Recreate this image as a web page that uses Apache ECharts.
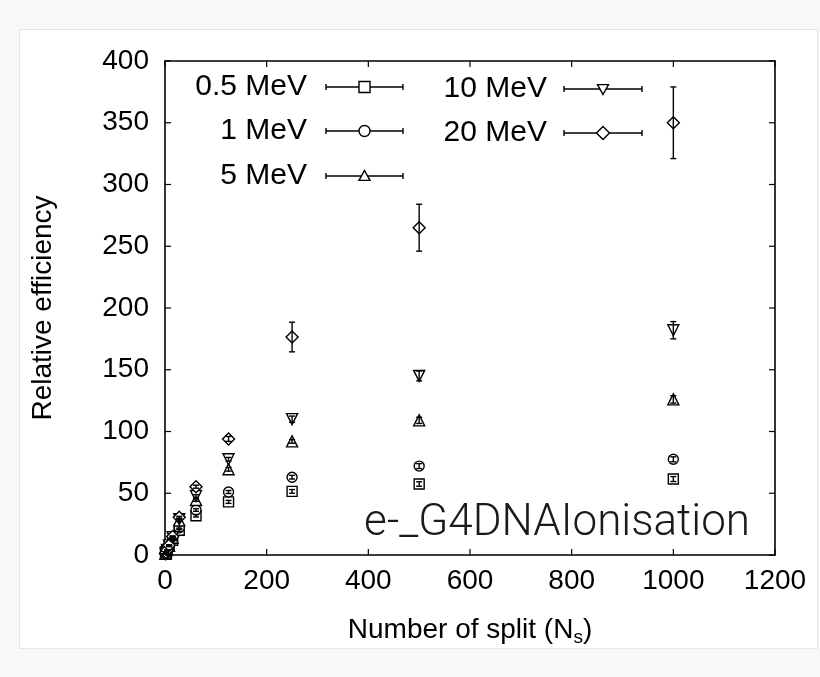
<!DOCTYPE html>
<html>
<head>
<meta charset="utf-8">
<script src="https://cdn.jsdelivr.net/npm/echarts@6/dist/echarts.min.js"></script>
<style>
html,body{margin:0;padding:0;background:#f8f8f8;}
#card{position:absolute;left:19px;top:29px;width:797px;height:618px;background:#fff;border:1px solid #e6e6e6;}
#chart{position:absolute;left:0;top:0;width:820px;height:677px;}
</style>
</head>
<body>
<div id="card"></div>
<div id="chart"></div>
<script>
// ---- data ----
const xVals = [1, 2, 4, 8, 15, 28, 61, 125, 250, 500, 1000];
const seriesNames = ['0.5 MeV', '1 MeV', '5 MeV', '10 MeV', '20 MeV'];
const y05  = [1, 2, 3.8, 7.0, 12, 20, 31.8, 43, 51.5, 57.5, 61.5];
const e05  = [0.1, 0.1, 0.2, 0.3, 0.5, 0.8, 1, 1.2, 1.5, 1.8, 2];
const y1   = [1, 2, 3.9, 7.4, 13, 22, 36.4, 51, 63, 72, 77.5];
const e1   = [0.1, 0.1, 0.2, 0.3, 0.5, 0.8, 1, 1.2, 1.5, 2, 2];
const y5   = [1, 2, 4, 7.7, 14, 28, 44.5, 69.4, 92, 109, 126];
const e5   = [0.1, 0.1, 0.2, 0.3, 0.5, 0.8, 1, 1.5, 1.5, 2.5, 3];
const y10  = [1, 2, 4, 7.8, 14.5, 29, 47.8, 77.5, 110, 145, 182];
const e10  = [0.1, 0.1, 0.2, 0.3, 0.5, 0.8, 1, 1.5, 2.5, 4, 7];
const y20  = [1, 2, 4, 7.9, 15, 30.5, 55.3, 94, 176.5, 265, 350];
const e20  = [0.1, 0.1, 0.2, 0.3, 0.5, 0.8, 1.2, 2, 12, 19, 29];
const xTicks = [0, 200, 400, 600, 800, 1000, 1200];
const yTicks = [0, 50, 100, 150, 200, 250, 300, 350, 400];

const allY = [y05, y1, y5, y10, y20];
const allE = [e05, e1, e5, e10, e20];
const symbols = ['rect', 'circle', 'triangle', 'triangle', 'diamond'];
const rotates = [0, 0, 0, 180, 0];
const sizes = [10, 10, 11, 11, 12];

const FONT = 'Liberation Sans';
const XMIN = xTicks[0], XMAX = xTicks[xTicks.length - 1];
const YMIN = yTicks[0], YMAX = yTicks[yTicks.length - 1];
const chart = echarts.init(document.getElementById('chart'), null, {renderer: 'canvas'});

const series = [];
allY.forEach((ys, i) => {
  series.push({
    name: seriesNames[i],
    type: 'scatter',
    symbol: symbols[i],
    symbolRotate: rotates[i],
    symbolSize: sizes[i],
    itemStyle: {color: '#ffffff', borderColor: '#000', borderWidth: 1.4, opacity: 1},
    data: xVals.map((x, k) => [x, ys[k]]),
    z: 3,
    silent: true
  });
  series.push({
    type: 'custom',
    data: xVals.map((x, k) => [x, ys[k], allE[i][k]]),
    renderItem: function (params, api) {
      const x = api.value(0), y = api.value(1), e = api.value(2);
      const lo = api.coord([x, y - e]);
      const hi = api.coord([x, y + e]);
      const c = 3;
      return {
        type: 'group',
        children: [
          {type: 'line', shape: {x1: lo[0], y1: lo[1], x2: hi[0], y2: hi[1]}, style: {stroke: '#000', lineWidth: 1.4}},
          {type: 'line', shape: {x1: lo[0] - c, y1: lo[1], x2: lo[0] + c, y2: lo[1]}, style: {stroke: '#000', lineWidth: 1.4}},
          {type: 'line', shape: {x1: hi[0] - c, y1: hi[1], x2: hi[0] + c, y2: hi[1]}, style: {stroke: '#000', lineWidth: 1.4}}
        ]
      };
    },
    z: 4,
    silent: true
  });
});

// inward ticks on all four sides (gnuplot style), positioned by the axes
const TL = 6;
series.push({
  type: 'custom', silent: true, z: 5, clip: false,
  data: xTicks.map(v => [v, YMIN]),
  renderItem: function (params, api) {
    const v = api.value(0);
    const b = api.coord([v, YMIN]), t = api.coord([v, YMAX]);
    return {type: 'group', children: [
      {type: 'line', shape: {x1: b[0], y1: b[1], x2: b[0], y2: b[1] - TL}, style: {stroke: '#000', lineWidth: 1.2}},
      {type: 'line', shape: {x1: t[0], y1: t[1], x2: t[0], y2: t[1] + TL}, style: {stroke: '#000', lineWidth: 1.2}}
    ]};
  }
});
series.push({
  type: 'custom', silent: true, z: 5, clip: false,
  data: yTicks.map(v => [XMIN, v]),
  renderItem: function (params, api) {
    const v = api.value(1);
    const l = api.coord([XMIN, v]), r = api.coord([XMAX, v]);
    return {type: 'group', children: [
      {type: 'line', shape: {x1: l[0], y1: l[1], x2: l[0] + TL, y2: l[1]}, style: {stroke: '#000', lineWidth: 1.2}},
      {type: 'line', shape: {x1: r[0], y1: r[1], x2: r[0] - TL, y2: r[1]}, style: {stroke: '#000', lineWidth: 1.2}}
    ]};
  }
});

// legend built as graphic elements
function legendSymbol(kind, cx, cy) {
  const s = 5.5;
  const st = {fill: '#fff', stroke: '#000', lineWidth: 1.4};
  if (kind === 0) return {type: 'rect', shape: {x: cx - s, y: cy - s, width: 2 * s, height: 2 * s}, style: st, z: 10};
  if (kind === 1) return {type: 'circle', shape: {cx: cx, cy: cy, r: s}, style: st, z: 10};
  if (kind === 2) return {type: 'polygon', shape: {points: [[cx, cy - s], [cx + s, cy + s * 0.8], [cx - s, cy + s * 0.8]]}, style: st, z: 10};
  if (kind === 3) return {type: 'polygon', shape: {points: [[cx, cy + s], [cx + s, cy - s * 0.8], [cx - s, cy - s * 0.8]]}, style: st, z: 10};
  return {type: 'polygon', shape: {points: [[cx, cy - s - 1], [cx + s + 1, cy], [cx, cy + s + 1], [cx - s - 1, cy]]}, style: st, z: 10};
}
const legendPos = [
  {tx: 307, x1: 326, x2: 403, y: 87},
  {tx: 307, x1: 326, x2: 403, y: 131},
  {tx: 307, x1: 326, x2: 403, y: 176},
  {tx: 547, x1: 564, x2: 642, y: 89},
  {tx: 547, x1: 564, x2: 642, y: 133}
];
const graphics = [];
seriesNames.forEach((n, i) => {
  const p = legendPos[i];
  graphics.push({type: 'text', x: p.tx, y: p.y, style: {text: n, font: '30px "' + FONT + '"', fill: '#000', textAlign: 'right', textVerticalAlign: 'middle'}, z: 10});
  graphics.push({type: 'line', shape: {x1: p.x1, y1: p.y, x2: p.x2, y2: p.y}, style: {stroke: '#000', lineWidth: 1.4}, z: 10});
  graphics.push({type: 'line', shape: {x1: p.x1, y1: p.y - 3, x2: p.x1, y2: p.y + 3}, style: {stroke: '#000', lineWidth: 1.4}, z: 10});
  graphics.push({type: 'line', shape: {x1: p.x2, y1: p.y - 3, x2: p.x2, y2: p.y + 3}, style: {stroke: '#000', lineWidth: 1.4}, z: 10});
  graphics.push(legendSymbol(i, (p.x1 + p.x2) / 2, p.y));
});
graphics.push({type: 'text', x: 750, y: 524, style: {text: 'e-_G4DNAIonisation', font: '300 44px Roboto', fill: '#1a1a1a', textAlign: 'right', textVerticalAlign: 'middle'}, z: 10});

const axisLine = {show: true, onZero: false, lineStyle: {color: '#000', width: 1.6}};
const option = {
  animation: false,
  backgroundColor: 'transparent',
  grid: {left: 165, top: 61, width: 610, height: 494, containLabel: false},
  xAxis: [{
    type: 'value', min: XMIN, max: XMAX, interval: 200,
    axisLine: axisLine,
    axisTick: {show: false},
    axisLabel: {color: '#000', fontSize: 28, fontFamily: FONT, margin: 12, formatter: v => String(v)},
    splitLine: {show: false},
    name: '{a|Number of split (N}{s|s}{a|)}',
    nameLocation: 'middle', nameGap: 58,
    nameTextStyle: {rich: {
      a: {fontSize: 28, fontFamily: FONT, color: '#000', lineHeight: 34, verticalAlign: 'middle'},
      s: {fontSize: 19, fontFamily: FONT, color: '#000', lineHeight: 34, verticalAlign: 'bottom'}
    }}
  }, {
    type: 'value', position: 'top', min: XMIN, max: XMAX, interval: 200,
    axisLine: axisLine, axisTick: {show: false},
    axisLabel: {show: false}, splitLine: {show: false}
  }],
  yAxis: [{
    type: 'value', min: YMIN, max: YMAX, interval: 50,
    axisLine: axisLine,
    axisTick: {show: false},
    axisLabel: {color: '#000', fontSize: 28, fontFamily: FONT, margin: 16},
    splitLine: {show: false},
    name: 'Relative efficiency', nameLocation: 'middle', nameGap: 108,
    nameTextStyle: {fontSize: 28, fontFamily: FONT, color: '#000'}
  }, {
    type: 'value', position: 'right', min: YMIN, max: YMAX, interval: 50,
    axisLine: axisLine, axisTick: {show: false},
    axisLabel: {show: false}, splitLine: {show: false}
  }],
  series: series,
  graphic: graphics
};
chart.setOption(option);
</script>
</body>
</html>
